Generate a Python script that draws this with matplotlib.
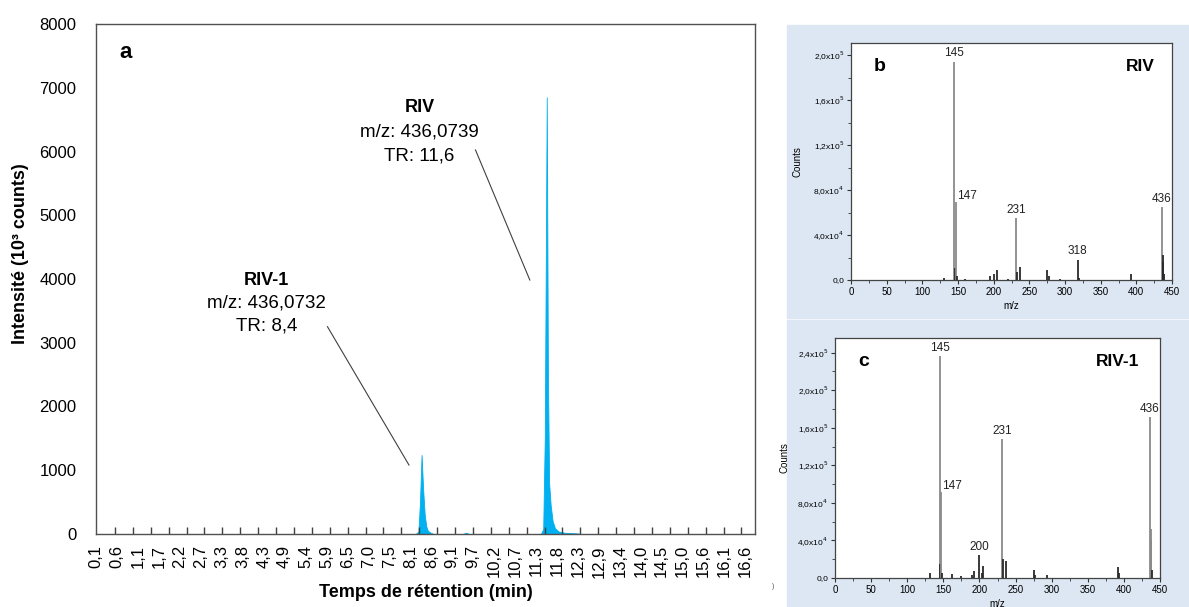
import numpy as np
import matplotlib
matplotlib.use("Agg")
import matplotlib.pyplot as plt
from matplotlib.patches import Rectangle

plt.rcParams['font.family'] = ['Liberation Sans', 'DejaVu Sans']

# chromatogram (min, 10^3 counts)
rt = [0.13, 8.22, 8.29, 8.33, 8.37, 8.41, 8.45, 8.49, 8.53, 8.60, 8.68,
      9.42, 9.50, 9.58,
      11.40, 11.46, 11.50, 11.55, 11.58, 11.61, 11.65, 11.70, 11.76, 11.85,
      12.00, 12.30, 12.45, 16.84]
intensity = [0, 0, 40, 500, 1240, 700, 300, 120, 50, 20, 0,
             0, 20, 0,
             0, 80, 1500, 6850, 2500, 800, 450, 200, 90, 40,
             20, 10, 0, 0]
rt_labels = ['0,1', '0,6', '1,1', '1,7', '2,2', '2,7', '3,3', '3,8', '4,3', '4,9',
             '5,4', '5,9', '6,5', '7,0', '7,5', '8,1', '8,6', '9,1', '9,7', '10,2',
             '10,7', '11,3', '11,8', '12,3', '12,9', '13,4', '14,0', '14,5', '15,0',
             '15,6', '16,1', '16,6']

# mass spectrum RIV (b)
mz_b = [131, 145, 146, 147, 148, 160, 195, 201, 205, 220, 231, 233, 237,
        275, 277, 293, 318, 320, 392, 436, 437, 438, 439]
counts_b = [1500, 194000, 11000, 69000, 4000, 1000, 4000, 5500, 8500, 1000,
            55000, 7000, 12000, 9000, 4000, 1000, 18000, 1500, 5000,
            65000, 22000, 16000, 5000]
labels_b = {145: '145', 147: '147', 231: '231', 318: '318', 436: '436'}

# mass spectrum RIV-1 (c)
mz_c = [131, 145, 146, 147, 148, 162, 175, 190, 193, 200, 203, 205, 231, 233,
        237, 275, 277, 294, 392, 393, 436, 437, 438, 439]
counts_c = [5000, 236000, 15000, 92000, 5000, 4000, 2000, 3000, 7000, 24000,
            5000, 13000, 148000, 20000, 18000, 9000, 3000, 3000, 12000, 5000,
            171000, 52000, 41000, 8000]
labels_c = {145: '145', 147: '147', 200: '200', 231: '231', 436: '436'}

W, H = 1189, 607
fig = plt.figure(figsize=(W / 100, H / 100), dpi=100)

def box(x0, y0, x1, y1):
    # pixel box (top-left origin) -> figure fraction
    return [x0 / W, 1 - y1 / H, (x1 - x0) / W, (y1 - y0) / H]

# ---- panel a: chromatogram ----
ax = fig.add_axes(box(96, 24, 755, 534))
ax.fill_between(rt, intensity, 0, color='#00B0F0', lw=0.6, edgecolor='#00B0F0')
ax.set_xlim(0.13, 16.84)
ax.set_ylim(0, 8000)
ax.set_yticks(range(0, 8001, 1000))
ax.tick_params(axis='y', length=0, pad=14, labelsize=12)
ax.set_xticks(np.linspace(0.1, 16.6, 32))
ax.set_xticklabels(rt_labels, rotation=90, fontsize=12)
ax.tick_params(axis='x', which='major', length=0, pad=8)
ax.set_xticks(np.linspace(0.582, 16.496, 36), minor=True)
ax.tick_params(axis='x', which='minor', direction='in', length=5, width=1, color='#404040')
for s in ax.spines.values():
    s.set_color('#505050')
    s.set_linewidth(1)
ax.set_xlabel('Temps de rétention (min)', fontsize=13, fontweight='bold')
ax.xaxis.set_label_coords(0.5, -0.098)
ax.set_ylabel('Intensité (10³ counts)', fontsize=13, fontweight='bold')
ax.yaxis.set_label_coords(-0.102, 0.55)

ax.text(0.035, 0.945, 'a', transform=ax.transAxes, fontsize=16, fontweight='bold', va='center')

ax.text(4.44, 3969, 'RIV-1', ha='center', va='center', fontsize=13, fontweight='bold')
ax.text(4.44, 3624, 'm/z: 436,0732', ha='center', va='center', fontsize=13.5)
ax.text(4.44, 3263, 'TR: 8,4', ha='center', va='center', fontsize=13.5)
ax.plot([5.98, 8.05], [3252, 1082], color='#404040', lw=0.8)

ax.text(8.32, 6698, 'RIV', ha='center', va='center', fontsize=13, fontweight='bold')
ax.text(8.32, 6306, 'm/z: 436,0739', ha='center', va='center', fontsize=13.5)
ax.text(8.32, 5929, 'TR: 11,6', ha='center', va='center', fontsize=13.5)
ax.plot([9.74, 11.12], [6024, 3984], color='#404040', lw=0.8)

fig.text(773 / W, 1 - 586 / H, ')', fontsize=5, color='#555555', ha='center', va='center')

# ---- right panels background ----
bg = '#dce7f3'
fig.patches.append(Rectangle((787 / W, 1 - 318 / H), (W - 787) / W, (318 - 25) / H,
                             transform=fig.transFigure, color=bg, zorder=-1))
fig.patches.append(Rectangle((787 / W, 0), (W - 787) / W, 1 - 320 / H,
                             transform=fig.transFigure, color=bg, zorder=-1))


def sci(v):
    if v == 0:
        return '0,0'
    e = int(np.floor(np.log10(v)))
    m = v / 10 ** e
    return f'{m:.1f}'.replace('.', ',') + 'x10$^{%d}$' % e


def spectrum(rect, mz, counts, labels, ymax, yticks, letter, name, name_x):
    a = fig.add_axes(rect)
    a.set_facecolor('white')
    cols = ['#8a8a8a' if c > 30000 else '#2a2a2a' for c in counts]
    a.vlines(mz, 0, counts, colors=cols, lw=1.3)
    a.set_xlim(0, 450)
    a.set_ylim(0, ymax)
    a.set_xticks(range(0, 451, 50))
    a.set_xticks(range(25, 451, 50), minor=True)
    a.set_yticks(yticks)
    a.set_yticklabels([sci(v) for v in yticks])
    a.set_yticks([v + (yticks[1] - yticks[0]) / 2 for v in yticks[:-1]], minor=True)
    a.tick_params(which='major', length=3, width=0.8, labelsize=6, pad=2, color='#333333')
    a.tick_params(which='minor', length=2, width=0.6, color='#333333')
    a.tick_params(axis='x', labelsize=7)
    for s in a.spines.values():
        s.set_color('#444444')
        s.set_linewidth(0.9)
    lookup = dict(zip(mz, counts))
    for m, t in labels.items():
        if t == '147':
            a.text(m + 1, lookup[m], t, ha='left', va='bottom', fontsize=8.5, color='#222222')
        else:
            a.text(m, lookup[m] + ymax * 0.01, t, ha='center', va='bottom', fontsize=8.5,
                   color='#222222')
    a.text(0.07, 0.9, letter, transform=a.transAxes, fontsize=14, fontweight='bold', va='center')
    a.text(name_x, 0.9, name, transform=a.transAxes, fontsize=12.5, fontweight='bold',
           ha='center', va='center')
    return a


axb = spectrum(box(851, 43, 1172, 280), mz_b, counts_b, labels_b, 2.107e5,
               [0, 4e4, 8e4, 1.2e5, 1.6e5, 2.0e5], 'b', 'RIV', 0.90)
axb.set_ylabel('Counts', fontsize=7, labelpad=8)
axb.set_xlabel('m/z', fontsize=7, labelpad=3)

axc = spectrum(box(835, 338, 1160, 578), mz_c, counts_c, labels_c, 2.556e5,
               [0, 4e4, 8e4, 1.2e5, 1.6e5, 2.0e5, 2.4e5], 'c', 'RIV-1', 0.87)
axc.set_ylabel('Counts', fontsize=7, labelpad=6)
axc.set_xlabel('m/z', fontsize=7, labelpad=3)

fig.savefig('out.png', dpi=100)
